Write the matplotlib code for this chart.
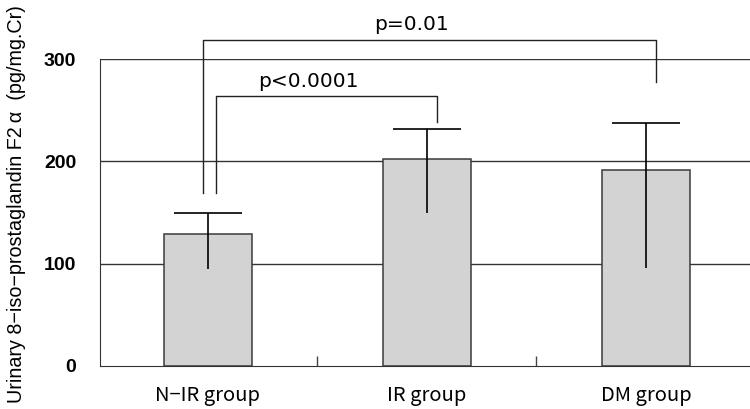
import matplotlib
matplotlib.use('Agg')
import matplotlib.pyplot as plt

# values
groups = ['N\u2212IR group', 'IR group', 'DM group']
means = [128.7, 202.0, 191.5]
err_upper = [21.1, 29.6, 46.3]
err_lower = [33.9, 52.2, 96.0]
yticks = [0, 100, 200, 300]

# significance brackets: (left x, right x, top y, left foot, right foot, label)
brackets = [
    (0.037, 1.044, 264, 169, 238, 'p<0.0001'),
    (-0.024, 2.047, 319, 169, 278, 'p=0.01'),
]

fig = plt.figure(figsize=(7.5, 4.09), dpi=100)
ax = fig.add_axes([100 / 750, 43 / 409, 650 / 750, 307 / 409])

x = list(range(len(groups)))
ax.bar(x, means, width=0.4, color='#d3d3d3', edgecolor='#3a3a3a', linewidth=1.1, zorder=2)

# whisker runs down through the bar, cap only on top
lows = [m - e for m, e in zip(means, err_lower)]
highs = [m + e for m, e in zip(means, err_upper)]
ax.vlines(x, lows, highs, color='black', linewidth=1.2, zorder=3)
ax.hlines(highs, [i - 0.157 for i in x], [i + 0.157 for i in x], color='black',
          linewidth=1.2, zorder=3)

for yv in yticks[1:]:
    ax.axhline(yv, color='#333333', linewidth=1.0, zorder=1)

for x0, x1, top, f0, f1, label in brackets:
    ax.plot([x0, x0, x1, x1], [f0, top, top, f1], color='#222222', linewidth=1.0,
            clip_on=False, zorder=3)
    ax.text((x0 + x1) / 2 - 0.08, top + 5, label, ha='center', va='bottom',
            fontsize=14.5, family='DejaVu Sans', clip_on=False)

ax.set_xlim(-0.493, 2.475)
ax.set_ylim(0, 300)
ax.set_yticks(yticks)
ax.set_yticklabels([str(v) for v in yticks], fontsize=14, fontweight='bold',
                   family='Liberation Sans')
ax.tick_params(axis='y', length=0, pad=17)

ax.set_xticks(x)
ax.set_xticklabels(groups, fontsize=14.5, family=['Noto Sans CJK JP', 'DejaVu Sans'])
ax.tick_params(axis='x', which='major', length=0, pad=14)
ax.set_xticks([0.5, 1.5], minor=True)
ax.tick_params(axis='x', which='minor', direction='in', length=7, width=1, color='#444444')

ax.spines['top'].set_visible(False)
ax.spines['right'].set_visible(False)
ax.spines['left'].set_color('#333333')
ax.spines['bottom'].set_color('#333333')

fig.text(17 / 750, 0.5, 'Urinary 8\u2212iso\u2212prostaglandin F2\u2009\u03b1  (pg/mg.Cr)',
         rotation=90, ha='center', va='center', fontsize=14.2,
         family=['Liberation Sans', 'DejaVu Sans'])

fig.savefig('out.png', dpi=100)
